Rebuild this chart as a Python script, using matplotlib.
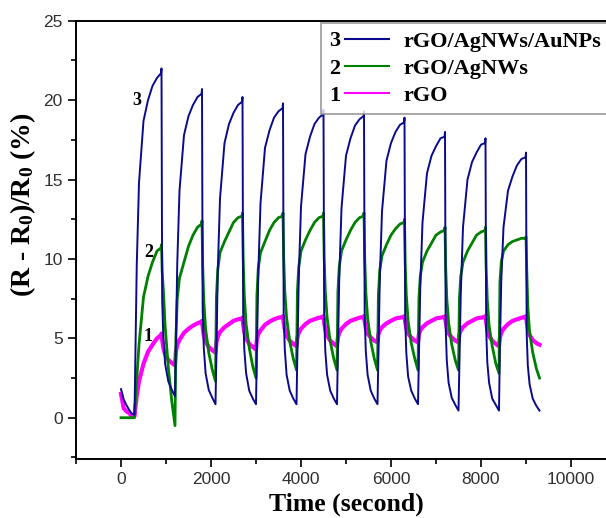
import matplotlib
matplotlib.use("Agg")
import matplotlib.pyplot as plt
from matplotlib.legend_handler import HandlerBase
from matplotlib.text import Text
from matplotlib.lines import Line2D

# ---------------- data ----------------
# sampling: initial baseline part, then for every exposure cycle the
# times after the cycle start (rise 0-600 s, recovery 600-900 s)
initial_time = [0, 60, 120, 180, 240, 300]
cycle_starts = [300, 1200, 2100, 3000, 3900, 4800, 5700, 6600, 7500, 8400]
cycle_offsets = [20, 50, 100, 200, 300, 400, 500, 590, 600,
                 615, 640, 680, 750, 830, 900]

blue_initial = [1.8, 1.15, 0.8, 0.5, 0.25, 0.2]
blue_cycles = [
    [4.1, 9.6, 14.8, 18.7, 20.0, 20.9, 21.4, 21.7, 22.0, 7.5, 5.1, 3.4, 2.3, 1.76, 1.35],
    [4.8, 9.7, 14.3, 17.8, 19.0, 19.7, 20.2, 20.4, 20.7, 6.8, 4.4, 2.8, 1.75, 1.25, 0.85],
    [4.3, 9.2, 13.8, 17.3, 18.5, 19.2, 19.7, 19.9, 20.2, 6.7, 4.3, 2.8, 1.7, 1.2, 0.85],
    [4.3, 9.0, 13.5, 17.0, 18.1, 18.9, 19.3, 19.5, 19.8, 6.5, 4.3, 2.7, 1.7, 1.2, 0.85],
    [4.2, 8.8, 13.3, 16.6, 17.7, 18.5, 18.9, 19.1, 19.4, 6.4, 4.2, 2.7, 1.7, 1.2, 0.85],
    [4.2, 8.8, 13.2, 16.5, 17.6, 18.4, 18.8, 19.0, 19.3, 6.4, 4.2, 2.7, 1.7, 1.2, 0.85],
    [4.1, 8.6, 13.0, 16.2, 17.3, 18.0, 18.45, 18.6, 18.9, 6.3, 4.1, 2.6, 1.7, 1.2, 0.85],
    [3.9, 8.2, 12.3, 15.4, 16.5, 17.1, 17.6, 17.7, 18.0, 5.7, 3.6, 2.2, 1.25, 0.8, 0.45],
    [3.5, 7.8, 12.0, 15.0, 16.1, 16.7, 17.2, 17.3, 17.6, 5.6, 3.5, 2.2, 1.2, 0.8, 0.45],
    [4.5, 8.6, 12.0, 14.3, 15.2, 15.9, 16.3, 16.4, 16.7, 5.3, 3.3, 2.1, 1.2, 0.75, 0.45],
]

green_initial = [0.0, 0.0, 0.0, 0.0, 0.0, 0.0]
green_cycles = [
    [1.1, 2.4, 4.6, 7.6, 8.9, 9.8, 10.5, 10.7, 10.9, 9.2, 8.1, 5.8, 3.2, 1.0, -0.5],
    [5.0, 7.5, 8.8, 9.8, 10.8, 11.5, 12.0, 12.2, 12.4, 9.6, 7.35, 5.6, 4.1, 3.0, 2.3],
    [7.6, 9.3, 10.4, 11.1, 11.7, 12.3, 12.6, 12.7, 12.9, 10.0, 7.7, 5.9, 4.4, 3.2, 2.5],
    [7.7, 9.4, 10.4, 11.1, 11.8, 12.3, 12.6, 12.7, 12.9, 10.1, 7.95, 6.3, 4.8, 3.7, 3.0],
    [7.95, 9.5, 10.5, 11.2, 11.8, 12.3, 12.6, 12.7, 12.9, 10.1, 7.95, 6.3, 4.8, 3.7, 3.0],
    [7.95, 9.5, 10.5, 11.2, 11.8, 12.3, 12.6, 12.7, 12.9, 10.1, 7.95, 6.3, 4.8, 3.7, 3.0],
    [7.75, 9.3, 10.2, 10.9, 11.5, 11.9, 12.2, 12.3, 12.5, 9.8, 7.75, 6.1, 4.7, 3.7, 3.0],
    [7.5, 8.9, 9.8, 10.5, 11.0, 11.5, 11.7, 11.8, 12.0, 9.5, 7.5, 6.0, 4.6, 3.6, 3.0],
    [7.5, 8.9, 9.8, 10.5, 11.0, 11.5, 11.7, 11.8, 12.0, 9.4, 7.4, 5.8, 4.5, 3.4, 2.8],
    [8.5, 9.8, 10.5, 10.9, 11.1, 11.2, 11.3, 11.3, 11.4, 9.5, 7.0, 5.4, 4.1, 3.1, 2.5],
]

pink_initial = [1.5, 0.6, 0.4, 0.3, 0.1, 0.1]
pink_cycles = [
    [0.6, 1.4, 2.3, 3.4, 4.15, 4.6, 5.0, 5.2, 5.3, 4.9, 4.4, 4.0, 3.65, 3.45, 3.3],
    [4.15, 4.6, 4.9, 5.35, 5.6, 5.8, 5.95, 6.05, 6.1, 5.7, 5.2, 4.8, 4.45, 4.25, 4.1],
    [4.75, 5.1, 5.4, 5.7, 5.9, 6.1, 6.2, 6.25, 6.3, 5.9, 5.4, 5.0, 4.65, 4.45, 4.3],
    [4.95, 5.25, 5.5, 5.85, 6.05, 6.2, 6.3, 6.35, 6.4, 6.0, 5.55, 5.15, 4.85, 4.65, 4.5],
    [5.05, 5.35, 5.6, 5.9, 6.1, 6.2, 6.3, 6.35, 6.4, 6.0, 5.55, 5.15, 4.85, 4.65, 4.5],
    [5.05, 5.35, 5.6, 5.9, 6.1, 6.2, 6.3, 6.35, 6.4, 6.05, 5.65, 5.3, 5.05, 4.85, 4.75],
    [5.25, 5.5, 5.7, 5.95, 6.1, 6.25, 6.3, 6.35, 6.4, 6.05, 5.65, 5.3, 5.05, 4.85, 4.75],
    [5.25, 5.5, 5.7, 5.95, 6.1, 6.25, 6.3, 6.35, 6.4, 6.05, 5.65, 5.3, 5.05, 4.85, 4.75],
    [5.25, 5.5, 5.7, 5.95, 6.1, 6.25, 6.3, 6.35, 6.4, 6.0, 5.55, 5.15, 4.85, 4.65, 4.5],
    [5.05, 5.35, 5.6, 5.9, 6.1, 6.2, 6.3, 6.35, 6.4, 6.05, 5.6, 5.2, 4.9, 4.7, 4.6],
]

series_names = ["rGO/AgNWs/AuNPs", "rGO/AgNWs", "rGO"]
series_numbers = ["3", "2", "1"]
x_ticks = [0, 2000, 4000, 6000, 8000, 10000]
y_ticks = [0, 5, 10, 15, 20, 25]


def build(initial, cycles):
    t = list(initial_time)
    v = list(initial)
    for start, vals in zip(cycle_starts, cycles):
        for off, val in zip(cycle_offsets, vals):
            t.append(start + off)
            v.append(val)
    return t, v


t_b, v_b = build(blue_initial, blue_cycles)
t_g, v_g = build(green_initial, green_cycles)
t_p, v_p = build(pink_initial, pink_cycles)

# ---------------- style ----------------
SERIF = "Liberation Serif"
SANS = "Liberation Sans"
plt.rcParams["mathtext.fontset"] = "custom"
plt.rcParams["mathtext.rm"] = "Liberation Serif:bold"
plt.rcParams["mathtext.bf"] = "Liberation Serif:bold"
plt.rcParams["mathtext.it"] = "Liberation Serif:bold:italic"

BLUE = "#0a0a8c"
GREEN = "#008000"
PINK = "#ff00ff"

fig = plt.figure(figsize=(6.06, 5.18), dpi=100)
ax = fig.add_axes([76 / 606, 59 / 518, 540 / 606, 438.2 / 518])

ax.plot(t_p, v_p, color=PINK, lw=3.0, zorder=2)
ax.plot(t_g, v_g, color=GREEN, lw=2.0, zorder=3)
ax.plot(t_b, v_b, color=BLUE, lw=1.4, zorder=4)

ax.set_xlim(-1000, 11000)
ax.set_ylim(-2.6, 25)
ax.set_xticks(x_ticks)
ax.set_yticks(y_ticks)
ax.set_xticks([t + 1000 for t in [-2000] + x_ticks], minor=True)
ax.set_yticks([-2.5, 2.5, 7.5, 12.5, 17.5, 22.5], minor=True)
ax.tick_params(which="major", direction="out", length=6, width=1.2,
               labelsize=12.5, labelcolor="#303030", pad=3.5)
ax.tick_params(which="minor", direction="out", length=3.5, width=1.2)
for lab in ax.get_xticklabels() + ax.get_yticklabels():
    lab.set_fontfamily(SANS)
for s in ["left", "bottom", "top"]:
    ax.spines[s].set_linewidth(1.4)
ax.spines["right"].set_visible(False)

ax.set_xlabel("Time (second)", fontsize=18.5, fontweight="bold",
              fontfamily=SERIF, labelpad=4)
ax.set_ylabel(r"(R - R$_\mathrm{0}$)/R$_\mathrm{0}$ (%)", fontsize=20,
              fontweight="bold", fontfamily=SERIF)
ax.yaxis.set_label_coords(-0.071, 0.58)

# curve numbers
ax.text(350, 20.0, "3", fontsize=13, fontweight="bold", fontfamily=SERIF,
        ha="center", va="center")
ax.text(620, 10.4, "2", fontsize=13, fontweight="bold", fontfamily=SERIF,
        ha="center", va="center")
ax.text(600, 5.1, "1", fontsize=13, fontweight="bold", fontfamily=SERIF,
        ha="center", va="center")


class NumLineHandler(HandlerBase):
    def __init__(self, num, **kw):
        super().__init__(**kw)
        self.num = num

    def create_artists(self, legend, orig_handle, xdescent, ydescent,
                       width, height, fontsize, trans):
        y = -ydescent + height / 2
        txt = Text(-xdescent, y, self.num, fontsize=fontsize,
                   fontweight="bold", fontfamily=SERIF, va="center_baseline",
                   ha="left", transform=trans)
        x0 = -xdescent + 0.75 * fontsize
        ln = Line2D([x0, -xdescent + width], [y, y],
                    color=orig_handle.get_color(), lw=1.5, transform=trans)
        return [txt, ln]


h_b = Line2D([], [], color=BLUE)
h_g = Line2D([], [], color=GREEN)
h_p = Line2D([], [], color=PINK)
handles = [h_b, h_g, h_p]
leg = ax.legend(handles, series_names,
                handler_map={h: NumLineHandler(n) for h, n in zip(handles, series_numbers)},
                loc="upper left", bbox_to_anchor=(0.4537, 0.994),
                borderaxespad=0, frameon=True, fancybox=False,
                prop={"family": SERIF, "weight": "bold", "size": 16},
                handlelength=2.7, handletextpad=0.65, labelspacing=0.3,
                borderpad=0.35)
leg.get_frame().set_edgecolor("#8a8a8a")
leg.get_frame().set_linewidth(1.3)

fig.savefig("out.png", dpi=100)
